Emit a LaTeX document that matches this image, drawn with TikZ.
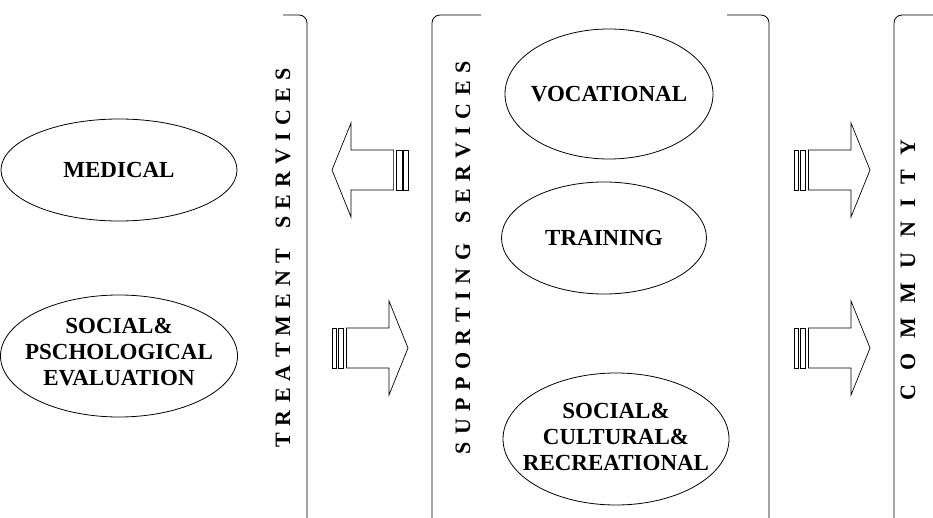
\documentclass[tikz,border=0pt]{standalone}
\usepackage{fontspec}
\setmainfont{Liberation Serif}

% letter-spaced text: \spreadtext{ABC~DEF} puts \lsgap between characters
\makeatletter
\newlength\lsgap
\def\spreadtext#1{\st@first#1\relax}
\def\st@first#1{#1\st@rest}
\def\st@rest#1{\ifx#1\relax\else\hspace{\lsgap}#1\expandafter\st@rest\fi}
\makeatother

\tikzset{
  outline/.style={draw=black, line width=0.8pt},
  bracket/.style={outline, rounded corners=8pt},
  ovaltext/.style={inner sep=0pt, align=center,
    font=\bfseries\fontsize{23}{26}\selectfont},
  vlabel/.style={rotate=90, inner sep=0pt,
    font=\bfseries\fontsize{22}{24}\selectfont},
  pics/stripedarrow/.style={code={
    \draw[outline, line width=0.7pt] (0,-20) rectangle (4.4,20);
    \draw[outline, line width=0.7pt] (6,-20) rectangle (11.7,20);
    \draw[outline, line width=0.7pt, line join=miter]
      (14.4,-20) -- (57,-20) -- (57,-47) -- (76,0) -- (57,47)
      -- (57,20) -- (14.4,20) -- cycle;
  }}
}

\begin{document}
\begin{tikzpicture}[x=1pt, y=-1pt]
\useasboundingbox (0,0) rectangle (933,518);
\clip (0,0) rectangle (933,518);

% group brackets
\draw[bracket] (283,15) -- (307,15) -- (307,526) -- (283,526);
\draw[bracket] (481,15) -- (432,15) -- (432,526) -- (455,526);
\draw[bracket] (727,15) -- (769,15) -- (769,526) -- (745,526);
\draw[bracket] (945,15) -- (894,15) -- (894,526) -- (920,526);

% service labels
\node[ovaltext] (med) at (119,170) {MEDICAL};
\node[ovaltext] (psy) at (119,352) {SOCIAL\&\\PSCHOLOGICAL\\EVALUATION};
\node[ovaltext] (voc) at (609,94) {VOCATIONAL};
\node[ovaltext] (trn) at (604,238) {TRAINING};
\node[ovaltext] (soc) at (616,437) {SOCIAL\&\\CULTURAL\&\\RECREATIONAL};

% ovals around the labels
\draw[outline] (med.center) ellipse [x radius=118, y radius=51];
\draw[outline] ([yshift=-4pt]psy.center) ellipse [x radius=118.5, y radius=61];
\draw[outline] (voc.center) ellipse [x radius=104, y radius=65];
\draw[outline] (trn.center) ellipse [x radius=102.5, y radius=56];
\draw[outline] ([yshift=-2pt]soc.center) ellipse [x radius=113, y radius=66];

% group titles
\node[vlabel] (treat) at (283,258)
  {\setlength\lsgap{7.2pt}\spreadtext{TREATMENT~SERVICES}};
\node[vlabel] (supp) at (463,258)
  {\setlength\lsgap{7.4pt}\spreadtext{SUPPORTING~SERVICES}};
\node[vlabel] (comm) at (908,270)
  {\setlength\lsgap{14.4pt}\spreadtext{COMMUNITY}};

% flow arrows
\pic[xscale=-1] at (408,170) {stripedarrow};
\pic at (332,348) {stripedarrow};
\pic at (794,170) {stripedarrow};
\pic at (794,348) {stripedarrow};
\end{tikzpicture}
\end{document}
